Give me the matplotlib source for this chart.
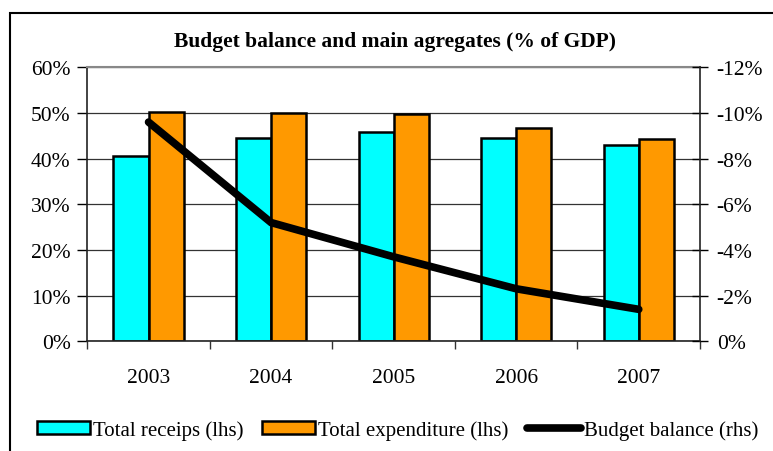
import matplotlib.pyplot as plt
import numpy as np
from matplotlib.patches import Patch, Rectangle
from matplotlib.lines import Line2D
from matplotlib.ticker import FuncFormatter, MultipleLocator

years = ['2003', '2004', '2005', '2006', '2007']
receipts = [40.6, 44.6, 45.9, 44.5, 43.0]      # % of GDP, left axis
expenditure = [50.3, 50.0, 49.7, 46.7, 44.3]   # % of GDP, left axis
balance = [-9.6, -5.2, -3.7, -2.3, -1.4]       # % of GDP, right axis

plt.rcParams['font.family'] = ['Liberation Serif', 'DejaVu Serif']
FS = 15.5

fig = plt.figure(figsize=(7.73, 4.52), dpi=100)
ax = fig.add_axes([0.1129, 0.2427, 0.7927, 0.6062])

x = np.arange(len(years))
w = 0.286
ax.bar(x - w / 2, receipts, w, color='#00FFFF', edgecolor='black', linewidth=1.8, zorder=2)
ax.bar(x + w / 2, expenditure, w, color='#FF9900', edgecolor='black', linewidth=1.8, zorder=2)

ax.set_xlim(-0.5, len(years) - 0.5)
ax.set_ylim(0, 60)
ax.yaxis.set_major_locator(MultipleLocator(10))
ax.yaxis.set_major_formatter(FuncFormatter(lambda v, p: f'{v:.0f}%'))
ax.grid(axis='y', color='#333333', linewidth=0.9, zorder=0)
ax.set_axisbelow(True)

# category boundaries carry the x ticks, labels sit at the centres
ax.set_xticks(np.arange(len(years) + 1) - 0.5)
ax.set_xticklabels([])
ax.set_xticks(x, minor=True)
ax.set_xticklabels(years, minor=True)
ax.tick_params(axis='x', which='major', direction='out', length=6, width=1, color='#333333')
ax.tick_params(axis='x', which='minor', length=0, pad=19.5, labelsize=FS)
ax.tick_params(axis='y', direction='out', length=7, width=1, labelsize=FS, pad=5)

for side in ['left', 'bottom']:
    ax.spines[side].set_color('#222222')
    ax.spines[side].set_linewidth(1.2)
ax.spines['top'].set_color('#888888')
ax.spines['top'].set_linewidth(1.5)
ax.spines['right'].set_visible(False)

# budget balance on an inverted right-hand scale
ax2 = ax.twinx()
ax2.plot(x, balance, color='black', linewidth=5.5, solid_capstyle='round',
         solid_joinstyle='miter', zorder=3)
ax2.set_ylim(0, -12)
ax2.yaxis.set_major_locator(MultipleLocator(2))
ax2.yaxis.set_major_formatter(FuncFormatter(lambda v, p: f'{v:.0f}%'))
ax2.tick_params(axis='y', direction='inout', length=12, width=1, labelsize=FS, pad=6)
for side in ['left', 'top', 'bottom']:
    ax2.spines[side].set_visible(False)
ax2.spines['right'].set_color('#222222')
ax2.spines['right'].set_linewidth(1.2)

fig.text(0.511, 0.907, 'Budget balance and main agregates (% of GDP)',
         ha='center', va='center', fontsize=FS, fontweight='bold')

handles = [
    Patch(facecolor='#00FFFF', edgecolor='black', linewidth=1.8, label='Total receips (lhs)'),
    Patch(facecolor='#FF9900', edgecolor='black', linewidth=1.8, label='Total expenditure (lhs)'),
    Line2D([0], [0], color='black', linewidth=5.5, solid_capstyle='round', label='Budget balance (rhs)'),
]
fig.legend(handles=handles, loc='center', bbox_to_anchor=(0.514, 0.046), ncol=3,
           frameon=False, fontsize=15, handlelength=2.55, handleheight=0.55,
           handletextpad=0.15, columnspacing=0.9)

# outer chart frame, clipped at the right and bottom edges
fig.patches.append(Rectangle((10 / 773, -0.05), 1.1, 0.969 + 0.05,
                             transform=fig.transFigure, fill=False,
                             edgecolor='black', linewidth=1.5))

fig.savefig('out.png', dpi=100)
